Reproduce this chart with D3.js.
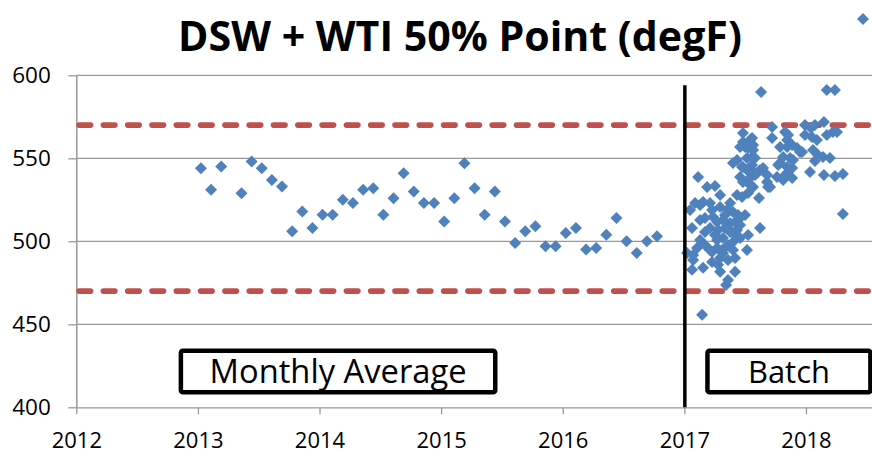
<!DOCTYPE html>
<html lang="en">
<meta charset="utf-8">
<head>
    <script src="https://d3js.org/d3.v7.min.js"></script>
    <style>
        body { margin: 0; background: #fff; }
        text { font-family: "Open Sans", "Lato", sans-serif; fill: #000; }
    </style>
</head>
<body>
<script>
    // monthly averages (Apr 2013 missing)
    var monthLabels = ["2013-01","2013-02","2013-03","2013-05","2013-06","2013-07","2013-08","2013-09","2013-10","2013-11","2013-12",
        "2014-01","2014-02","2014-03","2014-04","2014-05","2014-06","2014-07","2014-08","2014-09","2014-10","2014-11","2014-12",
        "2015-01","2015-02","2015-03","2015-04","2015-05","2015-06","2015-07","2015-08","2015-09","2015-10","2015-11","2015-12",
        "2016-01","2016-02","2016-03","2016-04","2016-05","2016-06","2016-07","2016-08","2016-09","2016-10"];
    var monthlyTemp = [544,531,545,529,548,544,537,533,506,518,508,
        516,516,525,523,531,532,516,526,541,530,523,523,
        512,526,547,532,516,530,512,499,506,509,497,497,
        505,508,495,496,504,514,500,493,500,503];

    // batch results, decimal year
    var batchYear = [2017.631,2018.171,2018.238,2017.482,2017.482,2017.557,2017.458,2017.524,2017.565,2017.557,
        2017.515,2017.540,2017.565,2017.581,2017.721,2017.721,2017.828,2017.853,2017.845,2017.787,
        2017.845,2017.886,2017.927,2017.951,2017.812,2017.869,2017.992,2018.041,2018.074,2017.992,
        2018.049,2018.090,2018.148,2018.172,2018.222,2018.255,2018.058,2018.099,2018.140,2018.197,
        2017.968,2018.074,2017.894,2017.787,2017.845,2017.886,2017.853,2017.812,2017.886,2018.033,
        2018.148,2018.238,2018.304,2017.400,2017.433,2017.474,2017.515,2017.565,2017.622,2017.647,
        2017.557,2017.458,2017.540,2017.581,2017.515,2017.688,2017.680,2017.565,2017.762,2017.771,
        2017.113,2017.187,2017.252,2017.598,2017.680,2017.482,2017.812,2017.433,2017.474,2017.524,
        2017.614,2017.088,2017.154,2017.211,2017.047,2017.294,2017.351,2017.400,2017.441,2017.129,
        2017.170,2017.236,2017.269,2017.318,2017.376,2017.417,2017.458,2017.063,2017.211,2017.277,
        2017.376,2017.433,2017.622,2017.458,2017.524,2017.269,2017.318,2017.400,2017.458,2017.072,
        2017.211,2017.269,2017.318,2017.515,2017.400,2017.022,2017.063,2017.154,2017.072,2017.277,
        2017.294,2017.417,2017.359,2017.343,2017.146,2018.304,2017.334,2017.359,2017.252,2017.170,
        2017.359,2017.417,2017.294,2017.359,2017.228,2017.129,2017.104,2017.310,2017.376,2017.228,
        2017.499,2017.482,2017.705,2017.228,2017.334,2017.170,2017.417,2017.129,2017.499,2017.294,
        2018.469];
    var batchTemp = [589.9,591.1,591.1,565.2,559.8,562.2,556.8,556.2,555.0,550.8,
        550.2,561.0,558.0,550.2,568.9,562.2,565.8,564.0,561.0,556.8,
        556.8,558.0,556.2,553.8,550.8,550.2,570.1,568.3,570.1,564.0,
        562.8,561.0,571.9,564.0,565.8,565.8,555.0,552.0,550.8,550.2,
        553.8,548.4,549.0,547.2,544.8,544.2,541.7,538.7,538.1,541.7,
        539.9,539.3,540.5,547.2,549.0,544.8,543.0,541.7,543.0,544.2,
        546.0,538.7,538.1,539.9,535.7,532.7,535.7,532.7,538.7,546.0,
        538.7,532.7,533.3,541.1,539.9,535.7,536.9,527.9,526.7,529.1,
        526.1,523.1,523.7,523.1,518.9,520.7,518.9,517.7,515.9,512.9,
        514.1,514.7,511.7,512.9,511.0,511.7,514.1,508.0,508.0,506.8,
        505.6,506.8,508.0,509.8,503.8,500.8,502.0,499.6,502.0,491.8,
        494.8,496.0,493.0,494.8,494.8,493.0,482.8,484.0,488.8,485.8,
        481.6,481.6,476.7,473.7,455.7,516.5,515.9,508.0,503.8,497.8,
        497.8,503.8,490.0,488.8,487.6,500.8,496.0,494.8,523.1,493.6,
        556.8,544.8,532.7,518.9,508.0,505.6,490.0,521.9,515.9,527.9,
        633.9];

    var yTicks = [400, 450, 500, 550, 600];
    var xTicks = [2012, 2013, 2014, 2015, 2016, 2017, 2018];
    var limits = [470, 570];
    var dividerYear = 2017;
    var boxLabels = ["Monthly Average", "Batch"];
    var title = "DSW + WTI 50% Point (degF)";

    var width = 872, height = 454;

    var svg = d3.select("body")
        .append("svg")
        .attr("width", width)
        .attr("height", height);

    var x = d3.scaleLinear()
        .domain([2012, 2018.543])
        .range([76.3, 872]);

    var y = d3.scaleLinear()
        .domain([400, 600])
        .range([407.3, 75.3]);

    // shrink/grow a text node so it spans the given width
    function fitText(sel, size, target) {
        sel.style("font-size", size + "px");
        var w = sel.node().getComputedTextLength();
        sel.style("font-size", (size * target / w) + "px");
    }

    // gridlines
    svg.append("g")
        .selectAll("line")
        .data(yTicks.slice(1))
        .enter()
        .append("line")
        .attr("x1", x(2012))
        .attr("x2", width)
        .attr("y1", function(d) { return y(d) })
        .attr("y2", function(d) { return y(d) })
        .attr("stroke", "#999")
        .attr("stroke-width", 1.3);

    // y axis
    var yAxis = svg.append("g")
        .attr("transform", "translate(" + x(2012) + ",0)")
        .call(d3.axisLeft(y).tickValues(yTicks).tickSize(8).tickSizeOuter(0).tickPadding(17.5));
    yAxis.select(".domain").attr("stroke", "#999").attr("stroke-width", 1.5);
    yAxis.selectAll(".tick line").attr("stroke", "#999").attr("stroke-width", 1.3);
    yAxis.selectAll("text").style("font-size", "22.5px").attr("fill", "#000");

    // x axis
    var xAxis = svg.append("g")
        .attr("transform", "translate(0," + y(400) + ")")
        .call(d3.axisBottom(x).tickValues(xTicks).tickFormat(d3.format("d")).tickSize(7).tickSizeOuter(0));
    xAxis.select(".domain").attr("stroke", "#999").attr("stroke-width", 1.3);
    xAxis.selectAll(".tick line").attr("stroke", "#999").attr("stroke-width", 1.3);
    xAxis.selectAll("text")
        .style("font-size", "22px")
        .attr("fill", "#000")
        .attr("y", 40.5)
        .attr("dy", 0);

    // spec limits
    svg.append("g")
        .selectAll("line")
        .data(limits)
        .enter()
        .append("line")
        .attr("x1", x(2012) + 2.8)
        .attr("x2", width + 10)
        .attr("y1", function(d) { return y(d) })
        .attr("y2", function(d) { return y(d) })
        .attr("stroke", "#c0504d")
        .attr("stroke-width", 5.6)
        .attr("stroke-linecap", "round")
        .attr("stroke-dasharray", "11.5,12.8");

    var diamond = "M0,-6L6,0L0,6L-6,0Z";

    var monthYear = monthLabels.map(function(m) {
        var p = m.split("-");
        return +p[0] + (+p[1] - 1) / 12 + 0.025;
    });

    svg.append("g")
        .selectAll("path")
        .data(monthlyTemp)
        .enter()
        .append("path")
        .attr("d", diamond)
        .attr("fill", "#4f81bd")
        .attr("transform", function(d, i) {
            return "translate(" + x(monthYear[i]) + "," + y(d) + ")"
        });

    svg.append("g")
        .selectAll("path")
        .data(batchTemp)
        .enter()
        .append("path")
        .attr("d", diamond)
        .attr("fill", "#4f81bd")
        .attr("transform", function(d, i) {
            return "translate(" + x(batchYear[i]) + "," + y(d) + ")"
        });

    // divider between monthly and batch data
    svg.append("line")
        .attr("x1", x(dividerYear) + 0.5)
        .attr("x2", x(dividerYear) + 0.5)
        .attr("y1", y(594))
        .attr("y2", y(400))
        .attr("stroke", "#000")
        .attr("stroke-width", 3.5);

    // label boxes
    var boxes = [
        {x0: 2012.86, x1: 2015.445, label: boxLabels[0], w: 257},
        {x0: 2017.19, x1: 2018.53, label: boxLabels[1], w: 82}
    ];
    var box = svg.append("g")
        .selectAll("g")
        .data(boxes)
        .enter()
        .append("g");
    box.append("rect")
        .attr("x", function(d) { return x(d.x0) })
        .attr("y", y(434))
        .attr("width", function(d) { return x(d.x1) - x(d.x0) })
        .attr("height", y(409) - y(434))
        .attr("rx", 2)
        .attr("fill", "#fff")
        .attr("stroke", "#000")
        .attr("stroke-width", 4.5);
    box.append("text")
        .attr("x", function(d) { return (x(d.x0) + x(d.x1)) / 2 })
        .attr("y", y(414.5))
        .attr("text-anchor", "middle")
        .text(function(d) { return d.label })
        .each(function(d) { fitText(d3.select(this), 30, d.w) });

    var t = svg.append("text")
        .attr("x", 460)
        .attr("y", 51)
        .attr("text-anchor", "middle")
        .style("font-weight", "bold")
        .text(title);
    fitText(t, 36, 564);
</script>
</body>
</html>
